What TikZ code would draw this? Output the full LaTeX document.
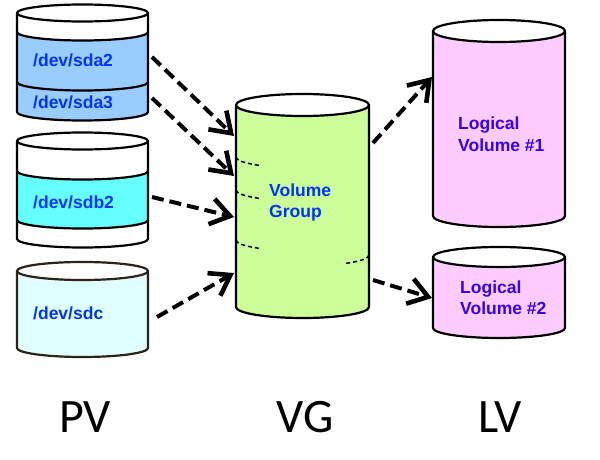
\documentclass[tikz,border=0pt]{standalone}
\usepackage{fontspec}
\setmainfont{Liberation Sans}
\newfontfamily\labelfont{Carlito}
\usetikzlibrary{arrows.meta}
\definecolor{sdablue}{RGB}{153,204,255}
\definecolor{sdbcyan}{RGB}{102,255,255}
\definecolor{sdclight}{RGB}{224,255,255}
\definecolor{vggreen}{RGB}{204,255,153}
\definecolor{lvpink}{RGB}{255,204,255}
\definecolor{pvtext}{RGB}{0,51,255}
\definecolor{lvtext}{RGB}{51,0,255}
\definecolor{sdcline}{RGB}{45,35,25}
\tikzset{
  cylline/.style={line width=2.2pt, line join=round},
  partline/.style={line width=1.5pt, dash pattern=on 4pt off 3pt},
  flow/.style={line width=4pt, dash pattern=on 12pt off 6pt,
    -{Straight Barb[length=19pt,width=26pt,line width=4.6pt]}},
  devtext/.style={font=\bfseries\fontsize{17.5}{21}\selectfont, text=pvtext, anchor=west, inner sep=0pt},
  lvlabel/.style={font=\bfseries\fontsize{17.5}{21.5}\selectfont, text=lvtext, align=left, anchor=west, inner sep=0pt},
  biglabel/.style={font=\labelfont\fontsize{48}{50}\selectfont, inner sep=0pt}
}
% body: cx, rx, ytop, ybot, ry, fill, line colour
\newcommand{\cylbody}[7]{%
  \fill[#6] (#1-#2,#3) -- (#1-#2,#4) arc[start angle=180,end angle=360,x radius=#2,y radius=#5] -- (#1+#2,#3) -- cycle;
}
\newcommand{\cylband}[6]{% cx, rx, ry, yupper, ylower, fill
  \fill[#6] (#1-#2,#4) -- (#1-#2,#5) arc[start angle=180,end angle=360,x radius=#2,y radius=#3] -- (#1+#2,#4) arc[start angle=0,end angle=-180,x radius=#2,y radius=#3] -- cycle;
}
\newcommand{\cylarc}[5]{% cx, rx, ry, y, colour
  \draw[cylline,#5] (#1-#2,#4) arc[start angle=180,end angle=360,x radius=#2,y radius=#3];
}
\newcommand{\cyloutline}[6]{% cx, rx, ytop, ybot, ry, colour
  \draw[cylline,#6] (#1-#2,#3) -- (#1-#2,#4) arc[start angle=180,end angle=360,x radius=#2,y radius=#5] -- (#1+#2,#3);
  \draw[cylline,#6,fill=white] (#1,#3) ellipse[x radius=#2, y radius=#5];
}
\begin{document}
\begin{tikzpicture}[x=1pt,y=1pt]
\useasboundingbox (0,0) rectangle (600,459);
\fill[white] (0,0) rectangle (600,459);

% ---- PV 1 : sda
\cylbody{82.5}{65.5}{446}{347}{8.5}{sdablue}{black}
\cylband{82.5}{65.5}{8.5}{446}{427}{white}
\cylarc{82.5}{65.5}{8.5}{427}{black}
\cylarc{82.5}{65.5}{8.5}{377}{black}
\cyloutline{82.5}{65.5}{446}{347}{8.5}{black}
\node[devtext] (sda2) at (33,399) {/dev/sda2};
\node[devtext] (sda3) at (33,357) {/dev/sda3};

% ---- PV 2 : sdb
\cylbody{82.5}{65.5}{318}{220}{8.5}{white}{black}
\cylband{82.5}{65.5}{8.5}{288}{239}{sdbcyan}
\cylarc{82.5}{65.5}{8.5}{288}{black}
\cylarc{82.5}{65.5}{8.5}{239}{black}
\cyloutline{82.5}{65.5}{318}{220}{8.5}{black}
\node[devtext] (sdb2) at (33,257) {/dev/sdb2};

% ---- PV 3 : sdc
\cylbody{82.5}{65.5}{188}{111}{9}{sdclight}{sdcline}
\cyloutline{82.5}{65.5}{188}{111}{9}{sdcline}
\node[devtext] (sdc) at (33,146) {/dev/sdc};

% ---- VG
\cylbody{302.5}{66.5}{354}{152}{11}{vggreen}{black}
\cyloutline{302.5}{66.5}{354}{152}{11}{black}
\draw[partline] (236,302) arc[start angle=180,end angle=230,x radius=66.5,y radius=11];
\draw[partline] (236,269) arc[start angle=180,end angle=230,x radius=66.5,y radius=11];
\draw[partline] (236,219) arc[start angle=180,end angle=230,x radius=66.5,y radius=11];
\draw[partline] (369,204) arc[start angle=360,end angle=310,x radius=66.5,y radius=11];
\node[devtext, align=left, font=\bfseries\fontsize{17.5}{21.5}\selectfont] (vg) at (269,256.5) {Volume\\Group};

% ---- LV 1
\cylbody{499}{66}{428}{243}{11}{lvpink}{black}
\cyloutline{499}{66}{428}{243}{11}{black}
\node[lvlabel] (lv1) at (458,325) {Logical\\Volume \#1};

% ---- LV 2
\cylbody{499}{66}{202}{131}{10}{lvpink}{black}
\cyloutline{499}{66}{202}{131}{10}{black}
\node[lvlabel] (lv2) at (460,161.5) {Logical\\Volume \#2};

% ---- connectors
\coordinate (a1s) at (152,402); \coordinate (a1e) at (234,323);
\coordinate (a2s) at (152,361); \coordinate (a2e) at (234,283);
\coordinate (a3s) at (152,262); \coordinate (a3e) at (234,242);
\coordinate (a4s) at (157,142); \coordinate (a4e) at (234,186);
\coordinate (a5s) at (373,316); \coordinate (a5e) at (432,382);
\coordinate (a6s) at (373,179); \coordinate (a6e) at (432,161);
\draw[flow] (a1s) -- (a1e);
\draw[flow] (a2s) -- (a2e);
\draw[flow] (a3s) -- (a3e);
\draw[flow] (a4s) -- (a4e);
\draw[flow] (a5s) -- (a5e);
\draw[flow] (a6s) -- (a6e);

% ---- bottom labels
\node[biglabel] (pv) at (85,42) {PV};
\node[biglabel] (vgl) at (305,42) {VG};
\node[biglabel] (lv) at (500,42) {LV};
\end{tikzpicture}
\end{document}
